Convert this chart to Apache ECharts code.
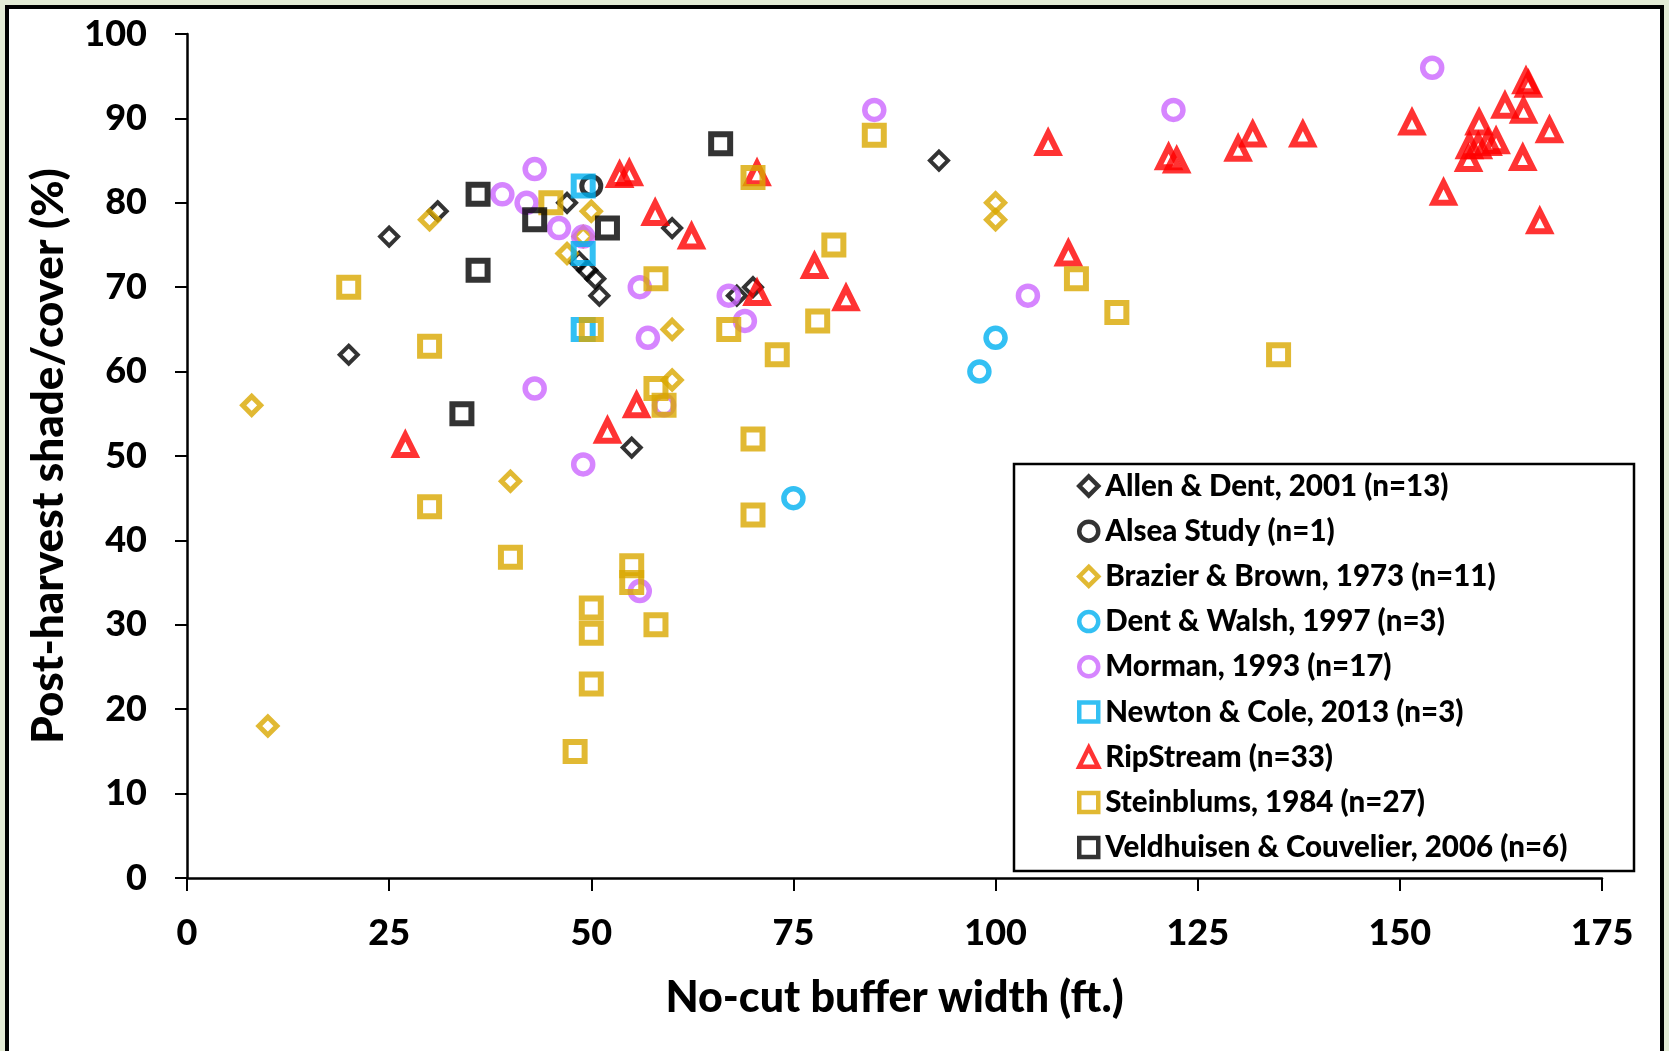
<!DOCTYPE html>
<html>
<head>
<meta charset="utf-8">
<title>Post-harvest shade vs buffer width</title>
<script src="https://cdn.jsdelivr.net/npm/echarts@6/dist/echarts.min.js"></script>
<style>
  html, body { margin: 0; padding: 0; background: #e3ebd5; }
  #chart { width: 1669px; height: 1051px; }
</style>
</head>
<body>
<div id="chart"></div>
<script>
// tick labels
var xTicks = [0, 25, 50, 75, 100, 125, 150, 175];
var yTicks = [0, 10, 20, 30, 40, 50, 60, 70, 80, 90, 100];

// [buffer width (ft), post-harvest shade (%)] per study
var allenDent = [[20,62],[25,76],[31,79],[47,80],[48.5,73],[49.5,72],[50.5,71],[51,69],[55,51],[60,77],[68,69],[70,70],[93,85]];
var alsea = [[50,82]];
var brazierBrown = [[8,56],[10,18],[30,78],[40,47],[47,74],[49,76],[50,79],[60,65],[60,59],[100,80],[100,78]];
var dentWalsh = [[75,45],[98,60],[100,64]];
var morman = [[39,81],[42,80],[43,84],[46,77],[49,76],[56,70],[57,64],[43,58],[49,49],[56,34],[59,56],[67,69],[69,66],[85,91],[104,69],[122,91],[154,96]];
var newtonCole = [[49,82],[49,74],[49,65]];
var ripStream = [[27,51.3],[52,53],[55.6,56],[53.5,83.3],[54.7,83.5],[57.9,78.8],[62.4,76],[70.5,83.5],[70.5,69.3],[77.6,72.5],[81.5,68.7],[106.5,87.1],[109,74],[121.4,85.4],[122.4,85],[130,86.4],[131.8,88.1],[138,88.1],[151.5,89.5],[155.4,81.2],[158.5,85.2],[158.6,86.7],[159.7,86.7],[159.8,89.5],[160.9,87.1],[161.9,87.3],[163,91.5],[165.2,85.3],[165.3,90.9],[165.6,94.4],[165.9,94],[167.3,77.8],[168.5,88.6]];
var steinblums = [[20,70],[30,63],[30,44],[40,38],[45,80],[48,15],[50,65],[50,32],[50,29],[50,23],[55,37],[55,35],[58,71],[58,58],[59,56],[58,30],[67,65],[70,83],[70,52],[70,43],[73,62],[78,66],[80,75],[85,88],[110,71],[115,67],[135,62]];
var veldhuisen = [[34,55],[36,81],[36,72],[43,78],[52,77],[66,87]];

var FONT = 'Lato, "Noto Sans", sans-serif';
var W = 900;

function pts(name, data, symbol, size, color, bw) {
  return {
    name: name,
    type: 'scatter',
    data: data,
    symbol: symbol,
    symbolSize: size,
    itemStyle: { color: 'rgba(0,0,0,0)', borderColor: color, borderWidth: bw },
    emphasis: { disabled: true }
  };
}

var chart = echarts.init(document.getElementById('chart'));
var option = {
  backgroundColor: '#e3ebd5',
  animation: false,
  graphic: [
    { type: 'rect', z: -10, shape: { x: 7, y: 7, width: 1655, height: 1060 },
      style: { fill: '#fff', stroke: '#000', lineWidth: 4 } },
    { type: 'rect', z: 50, shape: { x: 1014, y: 464, width: 620, height: 407 },
      style: { fill: '#fff', stroke: '#000', lineWidth: 2.5 } }
  ],
  grid: { left: 187, top: 34, right: 67, bottom: 173 },
  legend: {
    orient: 'vertical',
    left: 1077,
    top: 470,
    padding: 0,
    z: 60,
    itemWidth: 19,
    itemHeight: 19,
    itemGap: 13.2,
    itemStyle: { borderWidth: 4.5 },
    textStyle: { fontFamily: FONT, fontWeight: W, fontSize: 29.5, lineHeight: 32, color: '#000', padding: [0, 0, 0, 2] }
  },
  xAxis: {
    type: 'value',
    min: 0, max: 175, interval: 25,
    name: 'No-cut buffer width (ft.)',
    nameLocation: 'middle',
    nameGap: 99,
    nameTextStyle: { fontFamily: FONT, fontWeight: W, fontSize: 43, color: '#000' },
    axisLine: { show: true, onZero: false, lineStyle: { color: '#000', width: 2.5 } },
    axisTick: { show: true, inside: false, length: 13, lineStyle: { color: '#000', width: 2 } },
    axisLabel: { margin: 37, fontFamily: FONT, fontWeight: W, fontSize: 36, color: '#000',
      formatter: function (v) { return xTicks.indexOf(v) >= 0 ? String(v) : ''; } },
    splitLine: { show: false }
  },
  yAxis: {
    type: 'value',
    min: 0, max: 100, interval: 10,
    name: 'Post-harvest shade/cover (%)',
    nameLocation: 'middle',
    nameGap: 116,
    nameTextStyle: { fontFamily: FONT, fontWeight: W, fontSize: 44, color: '#000' },
    axisLine: { show: true, onZero: false, lineStyle: { color: '#000', width: 2.5 } },
    axisTick: { show: true, inside: false, length: 12, lineStyle: { color: '#000', width: 2 } },
    axisLabel: { margin: 40, fontFamily: FONT, fontWeight: W, fontSize: 36, color: '#000',
      formatter: function (v) { return yTicks.indexOf(v) >= 0 ? String(v) : ''; } },
    splitLine: { show: false }
  },
  series: [
    pts('Allen & Dent, 2001 (n=13)', allenDent, 'diamond', 18, '#000000', 4),
    pts('Alsea Study (n=1)', alsea, 'circle', 19, '#000000', 5),
    pts('Brazier & Brown, 1973 (n=11)', brazierBrown, 'diamond', 18, '#d9a700', 5),
    pts('Dent & Walsh, 1997 (n=3)', dentWalsh, 'circle', 19, '#00b0f0', 5.5),
    pts('Morman, 1993 (n=17)', morman, 'circle', 19, '#cc66ff', 5.5),
    pts('Newton & Cole, 2013 (n=3)', newtonCole, 'rect', 19, '#00b0f0', 6),
    pts('RipStream (n=33)', ripStream, 'triangle', 20, '#ff0000', 6),
    pts('Steinblums, 1984 (n=27)', steinblums, 'rect', 19, '#d9a700', 6),
    pts('Veldhuisen & Couvelier, 2006 (n=6)', veldhuisen, 'rect', 19, '#000000', 6)
  ]
};
chart.setOption(option);
</script>
</body>
</html>
